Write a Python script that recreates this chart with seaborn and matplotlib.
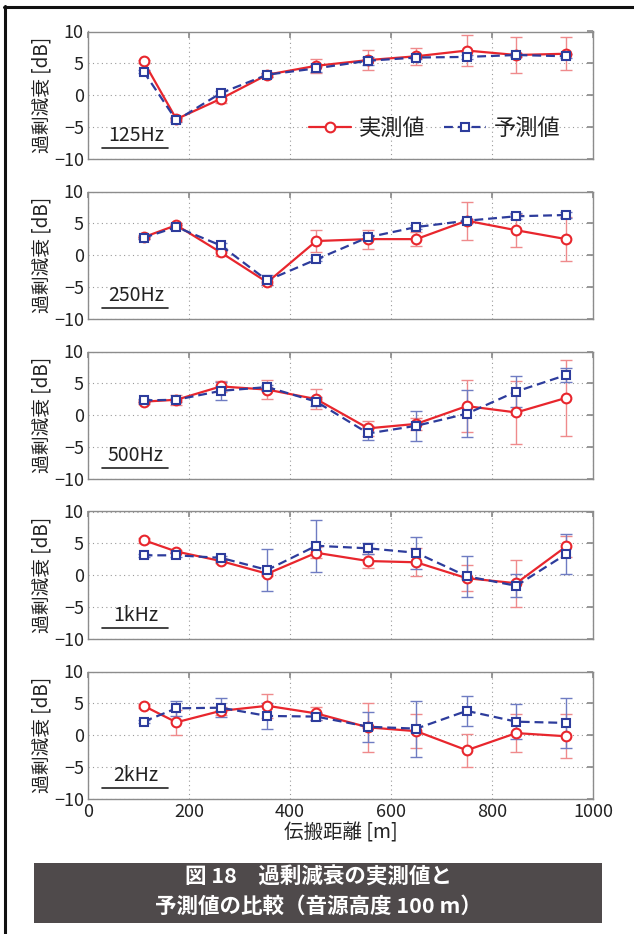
import numpy as np
import pandas as pd
import matplotlib
matplotlib.use('Agg')
import matplotlib.pyplot as plt
import seaborn as sns

sns.set_theme(style="white")
plt.rcParams['font.family'] = ['Noto Sans CJK JP', 'DejaVu Sans']
plt.rcParams['axes.unicode_minus'] = True

# propagation distance [m]
distance = [110, 175, 263, 355, 452, 555, 650, 750, 848, 947]

bands = ['125Hz', '250Hz', '500Hz', '1kHz', '2kHz']

meas_125 = [5.3, -3.8, -0.6, 3.2, 4.6, 5.5, 6.1, 7.0, 6.3, 6.5]
meas_err_125 = [0.2, 0.3, 0.6, 0.3, 1.1, 1.6, 1.3, 2.5, 2.8, 2.6]
pred_125 = [3.7, -4.0, 0.3, 3.2, 4.2, 5.4, 5.9, 6.0, 6.3, 6.1]
pred_err_125 = [0.2, 0.3, 0.3, 0.3, 0.6, 0.6, 0.3, 0.3, 0.3, 0.3]

meas_250 = [2.8, 4.7, 0.4, -4.3, 2.2, 2.5, 2.5, 5.4, 3.9, 2.5]
meas_err_250 = [0.3, 0.4, 0.5, 0.5, 1.7, 1.5, 1.1, 3.0, 2.6, 3.5]
pred_250 = [2.7, 4.4, 1.5, -4.0, -0.7, 2.8, 4.4, 5.4, 6.1, 6.3]
pred_err_250 = [0.2, 0.3, 0.4, 0.8, 0.3, 0.3, 0.3, 0.3, 0.5, 0.4]

meas_500 = [2.1, 2.4, 4.5, 4.0, 2.5, -2.1, -1.4, 1.4, 0.4, 2.7]
meas_err_500 = [0.3, 0.8, 0.9, 1.5, 1.6, 1.2, 1.0, 4.1, 4.9, 6.0]
pred_500 = [2.3, 2.4, 3.8, 4.4, 2.1, -2.9, -1.7, 0.2, 3.7, 6.3]
pred_err_500 = [0.2, 0.3, 1.4, 0.4, 0.7, 1.1, 2.4, 3.7, 2.4, 1.1]

meas_1k = [5.5, 3.7, 2.2, 0.2, 3.5, 2.2, 2.0, -0.5, -1.3, 4.5]
meas_err_1k = [0.4, 0.3, 0.3, 0.3, 0.9, 1.1, 2.2, 2.0, 3.7, 1.7]
pred_1k = [3.1, 3.1, 2.7, 0.8, 4.6, 4.2, 3.5, -0.2, -1.7, 3.3]
pred_err_1k = [0.2, 0.3, 0.3, 3.3, 4.1, 0.9, 2.5, 3.2, 1.8, 3.2]

meas_2k = [4.6, 2.0, 3.8, 4.6, 3.4, 1.2, 0.6, -2.4, 0.3, -0.2]
meas_err_2k = [0.3, 2.0, 0.6, 1.9, 1.0, 3.9, 2.7, 2.6, 3.0, 3.5]
pred_2k = [2.1, 4.2, 4.3, 3.0, 2.9, 1.3, 1.0, 3.8, 2.1, 1.9]
pred_err_2k = [0.2, 1.2, 1.5, 2.0, 0.5, 2.4, 4.4, 2.4, 2.8, 3.9]

measured = [meas_125, meas_250, meas_500, meas_1k, meas_2k]
measured_err = [meas_err_125, meas_err_250, meas_err_500, meas_err_1k, meas_err_2k]
predicted = [pred_125, pred_250, pred_500, pred_1k, pred_2k]
predicted_err = [pred_err_125, pred_err_250, pred_err_500, pred_err_1k, pred_err_2k]

RED = '#e8262d'
BLUE = '#2d3c9c'
RED_ERR = '#ef8a8c'
BLUE_ERR = '#6f7cc2'
TEXT = '#222222'


def draw_series(ax, y, err, color, ecolor, marker, ls, label):
    ax.errorbar(distance, y, yerr=err, fmt='none', ecolor=ecolor,
                elinewidth=1.0, capsize=4, capthick=1.0, zorder=2)
    sns.lineplot(x=distance, y=y, color=color, marker=marker, linestyle=ls,
                 linewidth=1.6, markersize=7 if marker == 'o' else 6,
                 markerfacecolor='white', markeredgecolor=color,
                 markeredgewidth=1.5, label=label, ax=ax, zorder=3)


def draw_panel(fig, i, rect):
    ax = fig.add_axes(rect)

    draw_series(ax, measured[i], measured_err[i], RED, RED_ERR, 'o', '-', '実測値')
    draw_series(ax, predicted[i], predicted_err[i], BLUE, BLUE_ERR, 's',
                (0, (4, 2.2)), '予測値')

    ax.set_xlim(0, 1000)
    ax.set_ylim(-10, 10)
    ax.set_xticks([0, 200, 400, 600, 800, 1000])
    ax.set_yticks([-10, -5, 0, 5, 10])
    ax.set_yticklabels(['\u221210', '\u22125', '0', '5', '10'])
    ax.grid(True, linestyle=(0, (1, 3)), color='#9a9a9a', linewidth=0.8)
    for s in ax.spines.values():
        s.set_color('#8c8c8c')
        s.set_linewidth(1.0)
    ax.tick_params(axis='both', direction='in', length=4, color='#8c8c8c',
                   labelsize=13, labelcolor=TEXT, pad=3)
    ax.tick_params(axis='x', top=True)
    ax.tick_params(axis='y', right=True)
    ax.set_ylabel('過剰減衰 [dB]', fontsize=13.5, color=TEXT, labelpad=1)
    ax.set_xlabel('')

    ax.text(0.095, 0.095, bands[i], transform=ax.transAxes, ha='center',
            va='bottom', fontsize=14, color=TEXT)
    ax.plot([0.028, 0.158], [0.08, 0.08], transform=ax.transAxes,
            color=TEXT, linewidth=1.2, clip_on=False)

    if i == 0:
        leg = ax.legend(loc='lower right', bbox_to_anchor=(0.975, -0.01),
                        ncol=2, frameon=False, fontsize=16, handlelength=1.9,
                        handletextpad=0.35, columnspacing=0.8)
        for t in leg.get_texts():
            t.set_color(TEXT)
    else:
        ax.get_legend().remove()
    if i < len(bands) - 1:
        ax.set_xticklabels([])
    return ax


def plot_figure():
    fig = plt.figure(figsize=(6.34, 9.34), dpi=100)
    W, H = 634, 934
    left, right = 88, 593
    top0, ph, step = 31.5, 127, 160
    for i in range(len(bands)):
        top = top0 + i * step
        rect = [left / W, 1 - (top + ph) / H, (right - left) / W, ph / H]
        ax = draw_panel(fig, i, rect)
    ax.set_xlabel('伝搬距離 [m]', fontsize=14, color=TEXT, labelpad=1)

    # outer frame (left and top)
    fig.add_artist(plt.Line2D([5 / W, 5 / W], [0, 1 - 6 / H], color='#111111',
                              linewidth=2.2))
    fig.add_artist(plt.Line2D([4 / W, 1], [1 - 6.5 / H, 1 - 6.5 / H],
                              color='#111111', linewidth=2.2))

    # caption box
    bx0, bx1, by0, by1 = 34, 602, 863, 923
    fig.add_artist(plt.Rectangle((bx0 / W, 1 - by1 / H), (bx1 - bx0) / W,
                                 (by1 - by0) / H, facecolor='#4f4a4b',
                                 edgecolor='none'))
    cx = (bx0 + bx1) / 2 / W
    fig.text(cx, 1 - 877 / H, '図 18\u3000過剰減衰の実測値と', ha='center',
             va='center', fontsize=15.5, color='white', fontweight='bold')
    fig.text(cx, 1 - 906 / H, '予測値の比較（音源高度 100 m）', ha='center',
             va='center', fontsize=15.5, color='white', fontweight='bold')

    fig.savefig('out.png', dpi=100)


if __name__ == '__main__':
    plot_figure()
